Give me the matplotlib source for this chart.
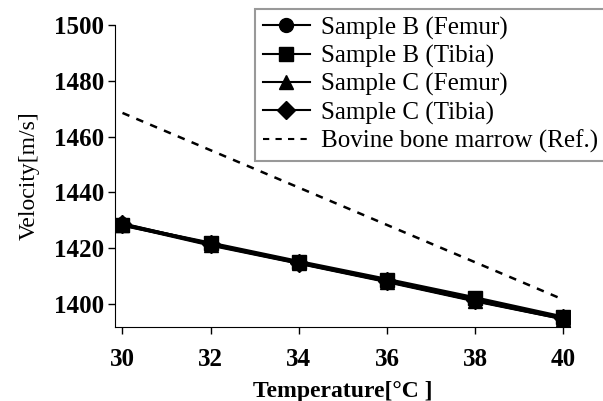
import matplotlib
matplotlib.use('agg')
import matplotlib.pyplot as plt
from matplotlib.legend_handler import HandlerLine2D
import numpy as np

plt.rcParams['font.family'] = 'Liberation Serif'

temperature = [30, 32, 34, 36, 38, 40]
b_femur = [1428.7, 1421.4, 1414.8, 1408.3, 1401.4, 1394.8]
b_tibia = [1428.3, 1421.8, 1415.2, 1408.8, 1402.2, 1395.3]
c_femur = [1428.5, 1421.2, 1414.7, 1408.1, 1401.2, 1394.8]
c_tibia = [1428.6, 1421.5, 1414.9, 1408.3, 1401.4, 1395.0]
ref_temp = [30, 40]
ref_marrow = [1468.5, 1401.6]

series = [
    ("Sample B (Femur)", b_femur, 'o', 10),
    ("Sample B (Tibia)", b_tibia, 's', 10),
    ("Sample C (Femur)", c_femur, '^', 10),
    ("Sample C (Tibia)", c_tibia, 'D', 9),
]

fig = plt.figure(figsize=(6.03, 4.01), dpi=100)
ax = fig.add_axes([115/603, 1 - 327/401, 455/603, 302/401])

handles = []
for label, vals, m, ms in series:
    h, = ax.plot(temperature, vals, color='black', lw=2.5, marker=m,
                 markersize=ms, label=label)
    handles.append(h)
h, = ax.plot(ref_temp, ref_marrow, color='black', lw=1.8, ls=(0, (3, 3)),
             label="Bovine bone marrow (Ref.)")
handles.append(h)

ax.set_xlim(29.83, 40.15)
ax.set_ylim(1391.8, 1500)
ax.set_xticks(temperature)
ax.set_yticks([1400, 1420, 1440, 1460, 1480, 1500])
ax.spines['top'].set_visible(False)
ax.spines['right'].set_visible(False)
ax.tick_params(direction='out', length=5, width=1, labelsize=18)
for t in ax.get_xticklabels() + ax.get_yticklabels():
    t.set_fontweight('bold')
ax.tick_params(axis='x', pad=10)
ax.tick_params(axis='y', pad=3)

ax.set_xlabel("Temperature[\u00b0C ]", fontsize=17, fontweight='bold', labelpad=7)
ax.set_ylabel("Velocity[m/s]", fontsize=17, labelpad=10)


class ThinHandler(HandlerLine2D):
    def create_artists(self, *args, **kwargs):
        arts = super().create_artists(*args, **kwargs)
        for a in arts:
            a.set_linewidth(1.5)
        return arts


leg = fig.legend(handles=handles, loc='upper left', bbox_to_anchor=(255/603, 1 - 9/401),
                 fontsize=18, frameon=True, fancybox=False, handlelength=1.9,
                 handletextpad=0.45, labelspacing=0.21, borderpad=0.3,
                 borderaxespad=0, handler_map={matplotlib.lines.Line2D: ThinHandler()})
leg.get_frame().set_edgecolor('#808080')
leg.get_frame().set_linewidth(1.5)

plt.savefig('out.png', dpi=100)
